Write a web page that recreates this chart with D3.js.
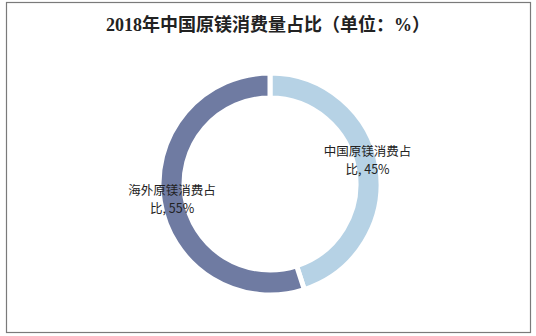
<!DOCTYPE html>
<html>
<head>
<meta charset="utf-8">
<script src="https://cdn.jsdelivr.net/npm/d3@7/dist/d3.min.js"></script>
<style>
  html, body { margin: 0; padding: 0; background: #fff; }
  svg { display: block; }
</style>
</head>
<body>
<svg id="chart" width="536" height="336"></svg>
<script>
// 2018 primary magnesium consumption share
const categories = ["中国原镁消费占比", "海外原镁消费占比"];
const shares = [45, 55];
const labelLines = [["中国原镁消费占", "比, 45%"], ["海外原镁消费占", "比, 55%"]];
const colors = ["#b6d2e5", "#6f7ba2"];

const svg = d3.select("#chart");

// outer frame
svg.append("rect")
  .attr("x", 6.5).attr("y", 2.5)
  .attr("width", 524).attr("height", 330)
  .attr("fill", "#fff")
  .attr("stroke", "#7a7a7a")
  .attr("stroke-width", 1.2);

// title
svg.append("text")
  .attr("x", 268).attr("y", 31)
  .attr("text-anchor", "middle")
  .attr("font-family", "'Liberation Serif', 'Noto Sans CJK SC', serif")
  .attr("font-weight", "bold")
  .attr("font-size", 18)
  .attr("fill", "#222")
  .text("2018年中国原镁消费量占比（单位：%）");

const cx = 270, cy = 184;
const outerR = 111, innerR = 86;

const data = categories.map((c, i) => ({ name: c, value: shares[i], lines: labelLines[i], color: colors[i] }));

const pie = d3.pie().value(d => d.value).sort(null);
const arc = d3.arc().innerRadius(innerR).outerRadius(outerR);
const arcs = pie(data);

const g = svg.append("g").attr("transform", `translate(${cx},${cy})`);

g.selectAll("path.slice")
  .data(arcs)
  .join("path")
  .attr("class", "slice")
  .attr("d", arc)
  .attr("fill", d => d.data.color)
  .attr("stroke", "#fff")
  .attr("stroke-width", 5)
  .attr("stroke-linejoin", "miter");

// slice labels anchored near the ring's inner edge
const labelArc = d3.arc().innerRadius(86).outerRadius(86);
const labelOffsets = [[12.6, -15], [-13, -2.5]];
const lineGap = 18;

const labelRows = arcs.flatMap((d, i) => {
  const [x, y] = labelArc.centroid(d);
  return d.data.lines.map((t, j) => ({
    text: t,
    x: x + labelOffsets[i][0],
    y: y + labelOffsets[i][1] + j * lineGap
  }));
});

g.selectAll("text.lbl")
  .data(labelRows)
  .join("text")
  .attr("class", "lbl")
  .attr("text-anchor", "middle")
  .attr("font-family", "'Noto Sans CJK SC', sans-serif")
  .attr("font-size", 12.5)
  .attr("fill", "#222")
  .attr("x", d => d.x)
  .attr("y", d => d.y)
  .text(d => d.text);
</script>
</body>
</html>
